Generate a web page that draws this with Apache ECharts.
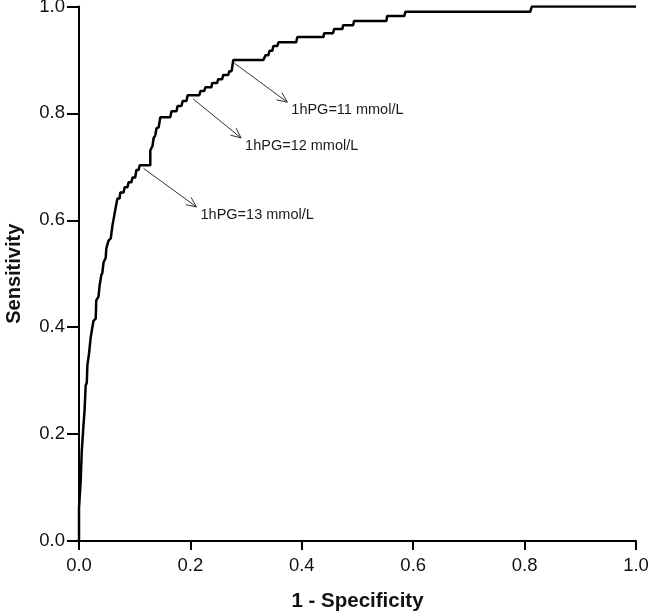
<!DOCTYPE html>
<html>
<head>
<meta charset="utf-8">
<script src="https://cdn.jsdelivr.net/npm/echarts@6/dist/echarts.min.js"></script>
<style>
html,body{margin:0;padding:0;background:#fff;}
#chart{width:650px;height:613px;}
</style>
</head>
<body>
<div id="chart"></div>
<script>
// ROC curve vertices: 1 - Specificity (fpr) and Sensitivity (tpr)
const fpr = [0, 0, 0.003, 0.005, 0.008, 0.010, 0.012, 0.014, 0.015, 0.018, 0.021, 0.023, 0.026, 0.030, 0.031, 0.035, 0.037, 0.040, 0.042, 0.044, 0.048, 0.049, 0.053, 0.057, 0.060, 0.064, 0.065, 0.069, 0.073, 0.074, 0.080, 0.082, 0.087, 0.089, 0.094, 0.096, 0.101, 0.103, 0.107, 0.109, 0.128, 0.128, 0.132, 0.134, 0.137, 0.139, 0.143, 0.146, 0.164, 0.166, 0.175, 0.177, 0.184, 0.186, 0.193, 0.195, 0.216, 0.218, 0.225, 0.227, 0.238, 0.239, 0.248, 0.250, 0.257, 0.259, 0.268, 0.270, 0.274, 0.277, 0.331, 0.335, 0.340, 0.342, 0.347, 0.349, 0.356, 0.358, 0.390, 0.392, 0.439, 0.440, 0.456, 0.458, 0.473, 0.474, 0.492, 0.494, 0.552, 0.553, 0.584, 0.586, 0.810, 0.813, 1.000];
const tpr = [0, 0.062, 0.112, 0.169, 0.216, 0.244, 0.291, 0.296, 0.328, 0.351, 0.381, 0.384, 0.412, 0.416, 0.450, 0.457, 0.478, 0.497, 0.502, 0.521, 0.530, 0.547, 0.562, 0.566, 0.590, 0.613, 0.619, 0.641, 0.641, 0.652, 0.652, 0.662, 0.662, 0.671, 0.671, 0.680, 0.680, 0.694, 0.694, 0.703, 0.703, 0.731, 0.739, 0.754, 0.759, 0.772, 0.774, 0.793, 0.793, 0.804, 0.804, 0.814, 0.814, 0.823, 0.823, 0.834, 0.834, 0.842, 0.842, 0.849, 0.849, 0.857, 0.857, 0.864, 0.864, 0.872, 0.872, 0.879, 0.879, 0.900, 0.900, 0.909, 0.909, 0.917, 0.917, 0.926, 0.926, 0.933, 0.933, 0.943, 0.943, 0.950, 0.950, 0.958, 0.958, 0.965, 0.965, 0.973, 0.973, 0.982, 0.982, 0.990, 0.990, 1.000, 1.000];

// Annotations (cut-off points)
const annoLabels = ['1hPG=11 mmol/L', '1hPG=12 mmol/L', '1hPG=13 mmol/L'];
const annoFromX = [0.279, 0.205, 0.116];
const annoFromY = [0.894, 0.827, 0.697];
const annoToX = [0.374, 0.291, 0.211];
const annoToY = [0.821, 0.754, 0.625];

// Axis ticks
const tickMin = 0, tickMax = 1, tickStep = 0.2;

const curveData = fpr.map((x, i) => [x, tpr[i]]);
const annoData = annoLabels.map((t, i) => [annoFromX[i], annoFromY[i], annoToX[i], annoToY[i], i]);

const chart = echarts.init(document.getElementById('chart'), null, {renderer: 'canvas'});
const font = 'Arial, "Liberation Sans", sans-serif';

chart.setOption({
  animation: false,
  backgroundColor: '#fff',
  grid: {left: 79, right: 14, top: 6.5, bottom: 72, containLabel: false, outerBoundsMode: 'none'},
  xAxis: {
    type: 'value', min: tickMin, max: tickMax, interval: tickStep,
    name: '1 - Specificity', nameLocation: 'middle', nameGap: 50,
    nameTextStyle: {fontFamily: font, fontWeight: 'bold', fontSize: 20.5, color: '#111'},
    axisLine: {show: true, lineStyle: {color: '#000', width: 2}},
    axisTick: {show: true, length: 9, lineStyle: {color: '#000', width: 2}},
    axisLabel: {margin: 15, fontFamily: font, fontSize: 18.5, color: '#111', formatter: v => v.toFixed(1)},
    splitLine: {show: false}
  },
  yAxis: {
    type: 'value', min: tickMin, max: tickMax, interval: tickStep,
    name: 'Sensitivity', nameLocation: 'middle', nameGap: 55,
    nameTextStyle: {fontFamily: font, fontWeight: 'bold', fontSize: 20, color: '#111'},
    axisLine: {show: true, lineStyle: {color: '#000', width: 2}},
    axisTick: {show: true, length: 12, lineStyle: {color: '#000', width: 2}},
    axisLabel: {margin: 14, fontFamily: font, fontSize: 18.5, color: '#111', formatter: v => v.toFixed(1)},
    splitLine: {show: false}
  },
  series: [
    {
      type: 'line', data: curveData, showSymbol: false, symbol: 'none',
      lineStyle: {color: '#000', width: 2.5}, z: 3
    },
    {
      type: 'custom', data: annoData, z: 4,
      renderItem: function (params, api) {
        const p0 = api.coord([api.value(0), api.value(1)]);
        const p1 = api.coord([api.value(2), api.value(3)]);
        const idx = api.value(4);
        const ang = Math.atan2(p1[1] - p0[1], p1[0] - p0[0]);
        const hl = 11, ha = 0.42;
        const h1 = [p1[0] - hl * Math.cos(ang - ha), p1[1] - hl * Math.sin(ang - ha)];
        const h2 = [p1[0] - hl * Math.cos(ang + ha), p1[1] - hl * Math.sin(ang + ha)];
        return {
          type: 'group',
          children: [
            {type: 'line', shape: {x1: p0[0], y1: p0[1], x2: p1[0], y2: p1[1]}, style: {stroke: '#333', lineWidth: 1}},
            {type: 'polyline', shape: {points: [h1, p1, h2]}, style: {stroke: '#333', lineWidth: 1, fill: null}},
            {type: 'text', x: p1[0] + 4, y: p1[1] + 8,
              style: {text: annoLabels[idx], fontFamily: font, fontSize: 14.5, fill: '#1a1a1a', align: 'left', verticalAlign: 'middle'}}
          ]
        };
      }
    }
  ]
});
</script>
</body>
</html>
